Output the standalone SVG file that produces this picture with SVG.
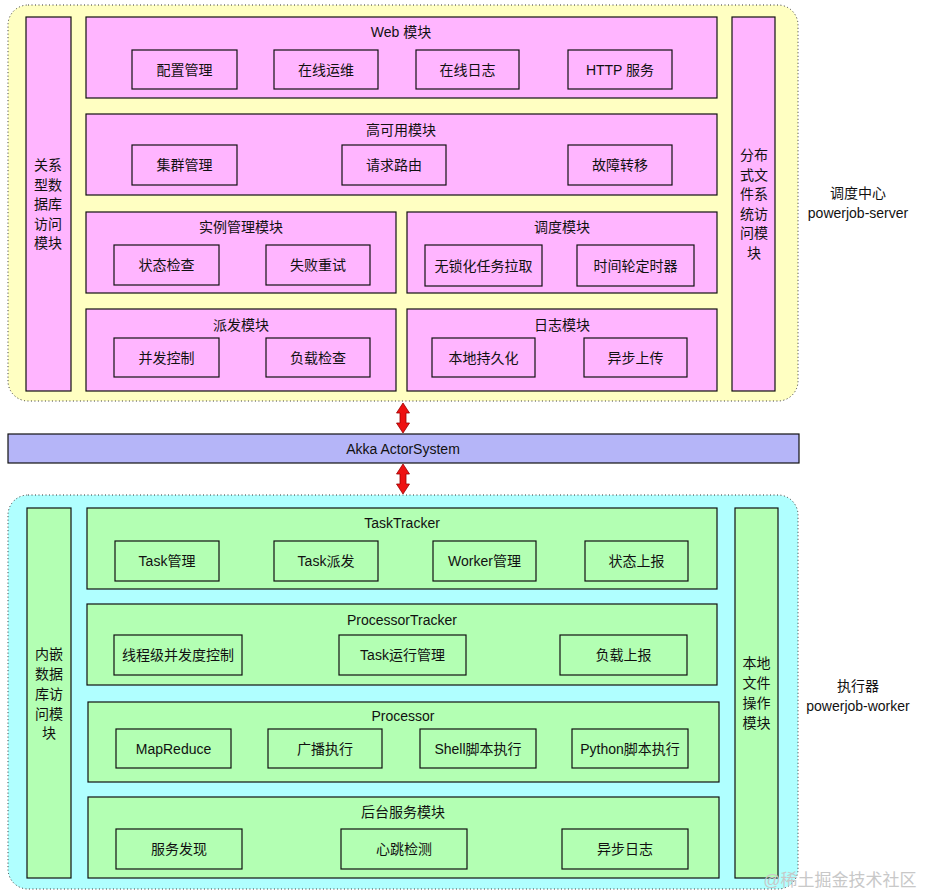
<svg xmlns="http://www.w3.org/2000/svg" width="926" height="896" viewBox="0 0 926 896">
<style>
text{font-family:"Liberation Sans","Noto Sans CJK SC",sans-serif;font-size:14px;fill:#111;text-anchor:middle;dominant-baseline:central}
.cont{stroke:#333;stroke-width:1;stroke-dasharray:1 2.5}
.y{fill:#FFFFC2}
.c{fill:#B0FFFF}
.p{fill:#FFB5FF;stroke:#111;stroke-width:1.2}
.g{fill:#B3FFB3;stroke:#111;stroke-width:1.2}
.bar{fill:#B5B5F8;stroke:#111;stroke-width:1.2}
.arr{fill:#EE1111;stroke:#990000;stroke-width:0.8}
.wm{fill:#c8c8c8;font-size:17px}
</style>
<rect width="926" height="896" fill="#fff"/>

<g id="server">
<rect class="cont y" x="8" y="5" width="790" height="396" rx="20"/>
</g>
<g id="server-label"><text x="858" y="193">调度中心</text><text x="858" y="213">powerjob-server</text></g>

<g id="rdb"><rect class="p" x="26" y="17" width="45" height="374"/>
<text x="48" y="165">关系</text><text x="48" y="184.5">型数</text><text x="48" y="204">据库</text><text x="48" y="223.5">访问</text><text x="48" y="243">模块</text></g>

<g id="dfs"><rect class="p" x="732" y="17" width="43" height="374"/>
<text x="754" y="155">分布</text><text x="754" y="174.5">式文</text><text x="754" y="194">件系</text><text x="754" y="213.5">统访</text><text x="754" y="233">问模</text><text x="754" y="252.5">块</text></g>

<g id="web"><rect class="p" x="86" y="17" width="631" height="81"/><text x="401" y="32">Web 模块</text>
<rect class="p" x="132" y="50" width="105" height="39"/><text x="184.5" y="70">配置管理</text>
<rect class="p" x="274" y="50" width="104" height="39"/><text x="326" y="70">在线运维</text>
<rect class="p" x="416" y="50" width="103" height="39"/><text x="467.5" y="70">在线日志</text>
<rect class="p" x="568" y="50" width="104" height="39"/><text x="620" y="70">HTTP 服务</text></g>

<g id="ha"><rect class="p" x="86" y="114" width="631" height="81"/><text x="401" y="130">高可用模块</text>
<rect class="p" x="132" y="145" width="105" height="40"/><text x="184.5" y="165">集群管理</text>
<rect class="p" x="342" y="145" width="104" height="40"/><text x="394" y="165">请求路由</text>
<rect class="p" x="568" y="145" width="104" height="40"/><text x="620" y="165">故障转移</text></g>

<g id="instance"><rect class="p" x="86" y="212" width="310" height="81"/><text x="241" y="227">实例管理模块</text>
<rect class="p" x="114" y="245" width="105" height="40"/><text x="166.5" y="265">状态检查</text>
<rect class="p" x="266" y="245" width="104" height="40"/><text x="318" y="265">失败重试</text></g>

<g id="schedule"><rect class="p" x="407" y="212" width="310" height="81"/><text x="562" y="227">调度模块</text>
<rect class="p" x="425" y="245" width="117" height="41"/><text x="483.5" y="265.5">无锁化任务拉取</text>
<rect class="p" x="577" y="245" width="117" height="41"/><text x="635.5" y="265.5">时间轮定时器</text></g>

<g id="dispatch"><rect class="p" x="86" y="309" width="310" height="82"/><text x="241" y="325">派发模块</text>
<rect class="p" x="114" y="338" width="105" height="39"/><text x="166.5" y="357.5">并发控制</text>
<rect class="p" x="266" y="338" width="104" height="39"/><text x="318" y="357.5">负载检查</text></g>

<g id="log"><rect class="p" x="407" y="309" width="310" height="82"/><text x="562" y="325">日志模块</text>
<rect class="p" x="432" y="338" width="103" height="39"/><text x="483.5" y="357.5">本地持久化</text>
<rect class="p" x="584" y="338" width="103" height="39"/><text x="635.5" y="357.5">异步上传</text></g>

<g id="akka"><rect class="bar" x="8" y="434" width="791" height="29"/><text x="403" y="449">Akka ActorSystem</text></g>

<g id="connectors">
<path class="arr" d="M403 403 L409.5 413 L406 413 L406 423 L409.5 423 L403 433 L396.5 423 L400 423 L400 413 L396.5 413 Z"/>
<path class="arr" d="M403 464 L409.5 474 L406 474 L406 484 L409.5 484 L403 494 L396.5 484 L400 484 L400 474 L396.5 474 Z"/>
</g>

<g id="worker">
<rect class="cont c" x="8" y="495" width="790" height="394" rx="20"/>
</g>
<g id="worker-label"><text x="858" y="686">执行器</text><text x="858" y="706">powerjob-worker</text></g>

<g id="embdb"><rect class="g" x="27" y="508" width="44" height="370"/>
<text x="49" y="654">内嵌</text><text x="49" y="674">数据</text><text x="49" y="694">库访</text><text x="49" y="713.5">问模</text><text x="49" y="733">块</text></g>

<g id="localfs"><rect class="g" x="735" y="508" width="43" height="370"/>
<text x="756.5" y="663">本地</text><text x="756.5" y="683">文件</text><text x="756.5" y="703">操作</text><text x="756.5" y="723">模块</text></g>

<g id="tasktracker"><rect class="g" x="87" y="508" width="630" height="81"/><text x="402" y="523">TaskTracker</text>
<rect class="g" x="115" y="541" width="104" height="40"/><text x="167" y="561">Task管理</text>
<rect class="g" x="274" y="541" width="104" height="40"/><text x="326" y="561">Task派发</text>
<rect class="g" x="433" y="541" width="103" height="40"/><text x="484.5" y="561">Worker管理</text>
<rect class="g" x="585" y="541" width="103" height="40"/><text x="636.5" y="561">状态上报</text></g>

<g id="processortracker"><rect class="g" x="87" y="604" width="630" height="81"/><text x="402" y="620">ProcessorTracker</text>
<rect class="g" x="114" y="635" width="128" height="40"/><text x="178" y="655">线程级并发度控制</text>
<rect class="g" x="339" y="635" width="127" height="40"/><text x="402.5" y="655">Task运行管理</text>
<rect class="g" x="560" y="635" width="127" height="40"/><text x="623.5" y="655">负载上报</text></g>

<g id="processor"><rect class="g" x="88" y="702" width="631" height="80"/><text x="403" y="716">Processor</text>
<rect class="g" x="116" y="729" width="115" height="39"/><text x="173.5" y="748.5">MapReduce</text>
<rect class="g" x="268" y="729" width="114" height="39"/><text x="325" y="748.5">广播执行</text>
<rect class="g" x="420" y="729" width="116" height="39"/><text x="478" y="748.5">Shell脚本执行</text>
<rect class="g" x="572" y="729" width="116" height="39"/><text x="630" y="748.5">Python脚本执行</text></g>

<g id="backend"><rect class="g" x="88" y="797" width="631" height="81"/><text x="403" y="812">后台服务模块</text>
<rect class="g" x="116" y="829" width="126" height="40"/><text x="179" y="849">服务发现</text>
<rect class="g" x="341" y="829" width="126" height="40"/><text x="404" y="849">心跳检测</text>
<rect class="g" x="562" y="829" width="126" height="40"/><text x="625" y="849">异步日志</text></g>

<text class="wm" x="840" y="880">@稀土掘金技术社区</text>
</svg>
